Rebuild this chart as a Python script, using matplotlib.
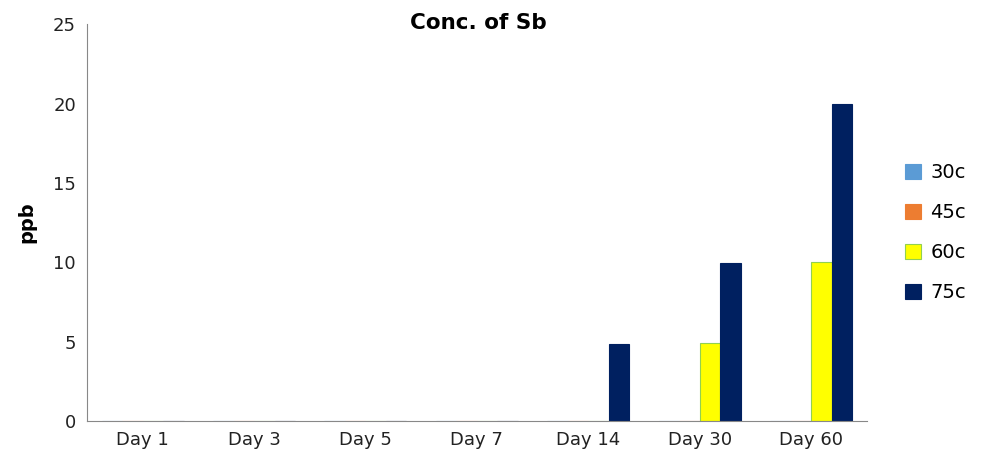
import matplotlib.pyplot as plt
import numpy as np

days = ['Day 1', 'Day 3', 'Day 5', 'Day 7', 'Day 14', 'Day 30', 'Day 60']
series = ['30c', '45c', '60c', '75c']
c30 = [0, 0, 0, 0, 0, 0, 0]
c45 = [0, 0, 0, 0, 0, 0, 0]
c60 = [0, 0, 0, 0, 0, 4.9, 10]
c75 = [0, 0, 0, 0, 4.85, 9.95, 20]

colors = ['#5b9bd5', '#ed7d31', '#ffff00', '#002060']
edges = ['#5b9bd5', '#ed7d31', '#92d050', '#002060']

fig = plt.figure(figsize=(9.82, 4.53), dpi=100)
ax = fig.add_axes([0.0886, 0.0706, 0.794, 0.876])

x = np.arange(len(days))
w = 0.184
for i, vals in enumerate([c30, c45, c60, c75]):
    ax.bar(x + (i - 1.5) * w, vals, w, color=colors[i], edgecolor=edges[i],
           linewidth=0.8, label=series[i])

ax.set_xlim(-0.5, len(days) - 0.5)
ax.set_ylim(0, 25)
ax.set_yticks([0, 5, 10, 15, 20, 25])
ax.set_xticks(x)
ax.set_xticklabels(days)
ax.tick_params(length=0, labelsize=13, colors='#222222', pad=7)
ax.tick_params(axis='y', pad=8)
for s in ['top', 'right']:
    ax.spines[s].set_visible(False)
for s in ['left', 'bottom']:
    ax.spines[s].set_color('#888888')

ax.set_ylabel('ppb', fontsize=14, fontweight='bold', labelpad=12)
fig.text(0.487, 0.95, 'Conc. of Sb', ha='center', va='center',
         fontsize=15.5, fontweight='bold')

fig.legend(loc='center left', bbox_to_anchor=(0.904, 0.486), frameon=False,
           fontsize=14, handlelength=0.8, handleheight=0.8,
           handletextpad=0.5, labelspacing=1.08)

fig.savefig('out.png', dpi=100)
